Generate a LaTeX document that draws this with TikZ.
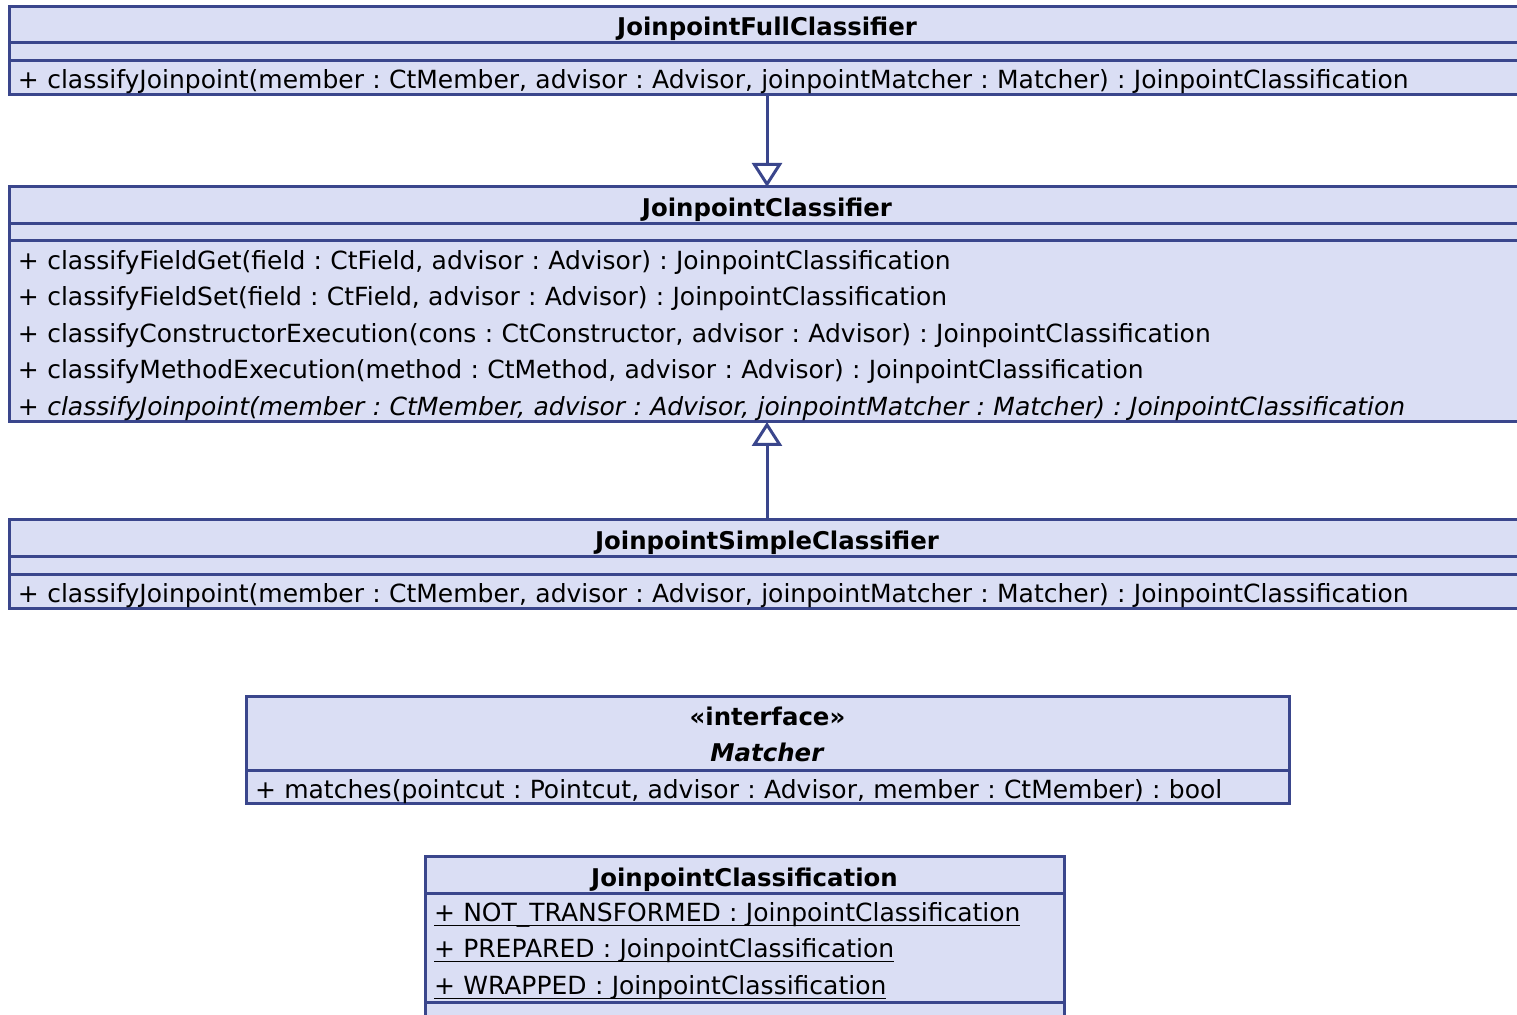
\documentclass[tikz,border=0pt]{standalone}
\usepackage{fontspec}
\setmainfont{DejaVu Sans}
\frenchspacing
\usetikzlibrary{positioning,arrows.meta}
\definecolor{umlfill}{RGB}{218,222,244}
\definecolor{umlline}{RGB}{58,70,140}
% static members: underlined close to the baseline
\newcommand{\staticattr}[1]{\underline{\raisebox{0pt}[\height][0.6pt]{#1}}}

\begin{document}
\begin{tikzpicture}[
    x=0.5pt, y=-0.5pt,
    comp/.style={
        draw=umlline,
        fill=umlfill,
        line width=1.5pt,
        outer sep=0pt,
        inner xsep=4.5pt,
        inner ysep=0pt,
        font=\fontsize{12.5}{18.25}\selectfont
    },
    head/.style={comp, text height=13.5pt, font=\fontsize{12.2}{18}\selectfont\bfseries},
    ops/.style={comp, align=left, text height=13.2pt},
    gen/.style={-{Triangle[open, length=12pt, width=15pt]}, draw=umlline, line width=1.5pt}
]
    \path[use as bounding box, clip] (0,0) rectangle (1517,1015);

    % JoinpointFullClassifier
    \node[head, minimum width=758pt, minimum height=18pt] (fullhead) at (767,25) {JoinpointFullClassifier};
    \node[comp, minimum width=758pt, minimum height=9pt, below=0pt of fullhead] (fullattr) {};
    \node[ops, text width=749pt, minimum height=17pt, below=0pt of fullattr] (fullops)
        {+ classifyJoinpoint(member : CtMember, advisor : Advisor, joinpointMatcher : Matcher) : JoinpointClassification};

    % JoinpointClassifier
    \node[head, minimum width=758pt, minimum height=18.5pt] (clshead) at (767,205.5) {JoinpointClassifier};
    \node[comp, minimum width=758pt, minimum height=8.5pt, below=0pt of clshead] (clsattr) {};
    \node[ops, text width=749pt, minimum height=90.5pt, below=0pt of clsattr] (clsops)
        {+ classifyFieldGet(field : CtField, advisor : Advisor) : JoinpointClassification\\
         + classifyFieldSet(field : CtField, advisor : Advisor) : JoinpointClassification\\
         + classifyConstructorExecution(cons : CtConstructor, advisor : Advisor) : JoinpointClassification\\
         + classifyMethodExecution(method : CtMethod, advisor : Advisor) : JoinpointClassification\\
         \itshape + classifyJoinpoint(member : CtMember, advisor : Advisor, joinpointMatcher : Matcher) : JoinpointClassification};

    % JoinpointSimpleClassifier
    \node[head, minimum width=758pt, minimum height=18.5pt] (simplehead) at (767,538.5) {JoinpointSimpleClassifier};
    \node[comp, minimum width=758pt, minimum height=9pt, below=0pt of simplehead] (simpleattr) {};
    \node[ops, text width=749pt, minimum height=17pt, below=0pt of simpleattr] (simpleops)
        {+ classifyJoinpoint(member : CtMember, advisor : Advisor, joinpointMatcher : Matcher) : JoinpointClassification};

    % Matcher
    \node[comp, align=center, font=\fontsize{12.2}{18}\selectfont\bfseries,
          minimum width=521.5pt, minimum height=37pt] (matchhead) at (767.5,734)
        {«interface»\\\textit{Matcher}};
    \node[ops, text width=512.5pt, minimum height=16.5pt, below=0pt of matchhead] (matchops)
        {+ matches(pointcut : Pointcut, advisor : Advisor, member : CtMember) : bool};

    % JoinpointClassification
    \node[head, minimum width=319.5pt, minimum height=18.5pt] (jpchead) at (744.5,875.5) {JoinpointClassification};
    \node[ops, text width=310.5pt, text height=12pt, minimum height=54.5pt, below=0pt of jpchead] (jpcattr)
        {\staticattr{+ NOT\_TRANSFORMED : JoinpointClassification}\\
         \staticattr{+ PREPARED : JoinpointClassification}\\
         \staticattr{+ WRAPPED : JoinpointClassification}};
    \node[comp, minimum width=319.5pt, minimum height=9pt, below=0pt of jpcattr] (jpcops) {};

    \draw[gen] (fullops.south) -- (clshead.north);
    \draw[gen] (simplehead.north) -- (clsops.south);
\end{tikzpicture}
\end{document}
